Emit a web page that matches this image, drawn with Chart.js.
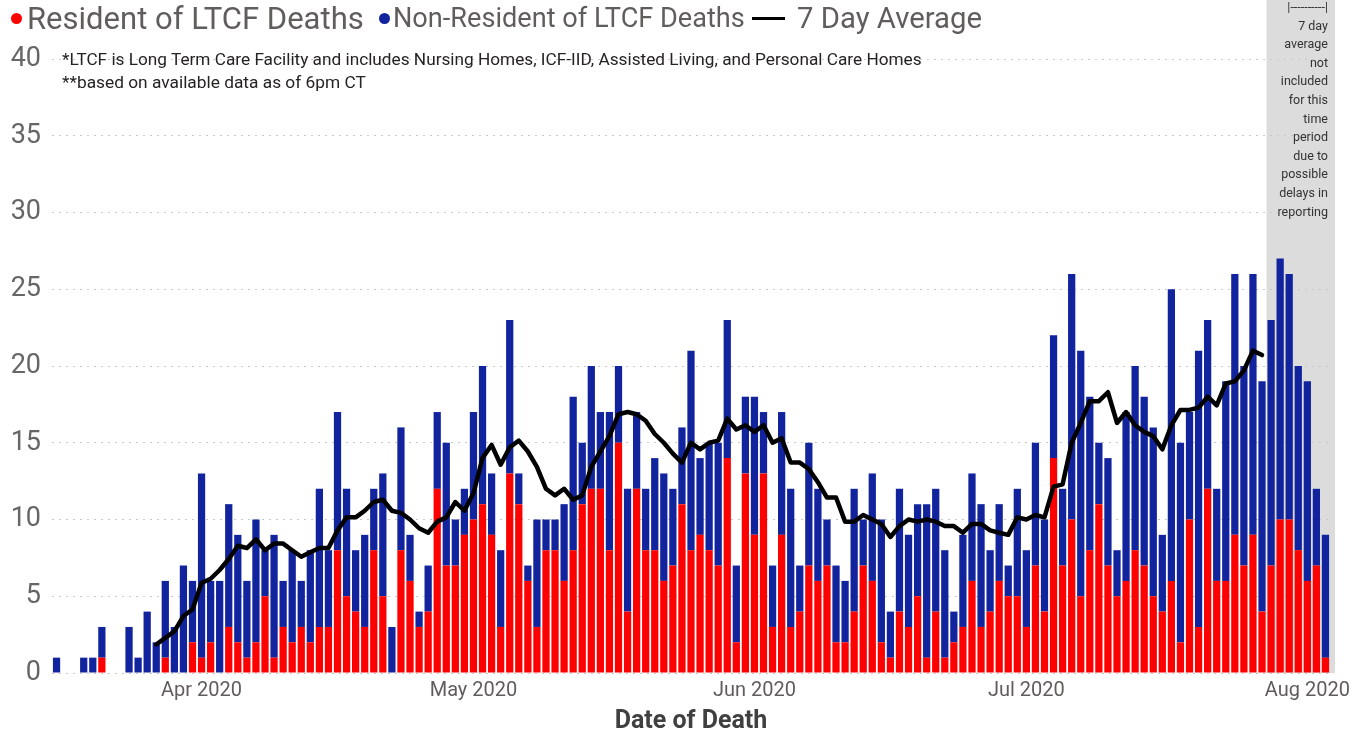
<!DOCTYPE html>
<html>
<head>
<meta charset="utf-8">
<script src="https://cdn.jsdelivr.net/npm/chart.js@4.4.1/dist/chart.umd.min.js"></script>
<style>
html,body{margin:0;padding:0;background:#fff;width:1369px;height:738px;overflow:hidden;}
#wrap{position:relative;width:1369px;height:738px;}
canvas{position:absolute;left:0;top:0;}
.t{position:absolute;white-space:nowrap;font-family:Roboto,'Open Sans',sans-serif;line-height:1;z-index:2;}
.leg{color:#605e5c;font-size:28px;}
.note{color:#252423;font-size:16px;}
.dot{position:absolute;width:11px;height:11px;border-radius:50%;z-index:2;}
#legLine{position:absolute;left:752px;top:16.5px;width:33px;height:3px;background:#000;z-index:2;}
#shadeText{position:absolute;right:41px;top:-2px;text-align:right;color:#333;font-family:Roboto,'Open Sans',sans-serif;font-size:12.5px;line-height:18.6px;z-index:2;white-space:nowrap;}
</style>
</head>
<body>
<div id="wrap">
<canvas id="c" width="1369" height="738"></canvas>
<div class="dot" style="left:10.5px;top:12.5px;background:#ff0000"></div>
<div class="t leg" id="leg0"></div>
<div class="dot" style="left:378.5px;top:12.5px;background:#12239e"></div>
<div class="t leg" id="leg1"></div>
<div id="legLine"></div>
<div class="t leg" id="leg2"></div>
<div class="t note" id="note0"></div>
<div class="t note" id="note1"></div>
<div id="shadeText"></div>
</div>
<script>
// ---------- data ----------
const START_DATE = '2020-03-16';
const resident = [
  0,0,0,0,0,1,0,0,0,0,
  0,0,1,0,0,2,1,2,0,3,
  2,1,2,5,1,3,2,3,2,3,
  3,8,5,4,3,8,5,0,8,6,
  3,4,12,7,7,9,10,11,9,3,
  13,11,6,3,8,8,6,8,11,12,
  12,8,15,4,12,8,8,6,7,11,
  8,9,8,7,14,2,13,9,13,3,
  9,3,4,7,6,7,2,2,4,7,
  6,2,1,4,3,5,1,4,1,2,
  3,6,3,4,6,5,5,3,7,4,
  14,7,10,5,8,11,7,5,6,8,
  7,5,4,6,2,10,3,12,6,6,
  9,7,9,4,7,10,10,8,6,7,
  1
];
const nonResident = [
  1,0,0,1,1,2,0,0,3,1,
  4,2,5,3,7,4,12,4,6,8,
  7,5,8,3,8,3,6,3,6,9,
  5,9,7,4,6,4,8,3,8,3,
  1,3,5,8,3,3,7,9,4,5,
  10,2,1,7,2,2,5,10,4,8,
  5,9,5,8,5,4,6,7,5,5,
  13,5,7,8,9,5,5,9,4,4,
  8,9,3,8,6,3,5,4,8,3,
  7,8,3,8,6,6,10,8,7,2,
  6,7,8,4,5,2,7,5,8,6,
  8,5,16,16,10,4,7,3,11,12,
  11,11,5,19,13,7,18,11,6,13,
  17,13,17,15,16,17,16,12,13,5,
  8
];
const sevenDayAvg = [
  null,null,null,null,null,null,null,null,null,null,
  null,1.86,2.29,2.71,3.71,4.14,5.86,6.14,6.71,7.43,
  8.29,8.14,8.71,8.00,8.43,8.43,8.00,7.57,7.86,8.14,
  8.14,9.29,10.14,10.14,10.57,11.14,11.29,10.57,10.43,10.00,
  9.43,9.14,9.86,10.14,11.14,10.57,11.71,14.00,14.86,13.57,
  14.71,15.14,14.43,13.43,12.00,11.57,12.00,11.29,11.57,13.43,
  14.43,15.43,16.86,17.00,16.86,16.43,15.57,15.00,14.29,13.71,
  15.00,14.57,15.00,15.14,16.57,15.86,16.14,15.71,16.14,15.00,
  15.29,13.71,13.71,13.29,12.43,11.43,11.43,9.86,9.86,10.29,
  10.00,9.71,8.86,9.57,10.00,9.86,10.00,9.86,9.57,9.57,
  9.14,9.71,9.71,9.29,9.14,9.00,10.14,10.00,10.29,10.14,
  12.14,12.29,15.00,16.29,17.71,17.71,18.29,16.29,17.00,16.14,
  15.71,15.43,14.57,16.14,17.14,17.14,17.29,18.00,17.43,18.86,
  19.00,19.71,21.00,20.71,null,null,null,null,null,null,
  null
];
const monthTickLabels = {'04':'Apr 2020','05':'May 2020','06':'Jun 2020','07':'Jul 2020','08':'Aug 2020'};
const yTicks = [0,5,10,15,20,25,30,35,40];
const legendLabels = ['Resident of LTCF Deaths','Non-Resident of LTCF Deaths','7 Day Average'];
const xTitle = 'Date of Death';
const notes = ['*LTCF is Long Term Care Facility and includes Nursing Homes, ICF-IID, Assisted Living, and Personal Care Homes','**based on available data as of 6pm CT'];
const shadeNote = ['|----------|','7 day','average','not','included','for this','time','period','due to','possible','delays in','reporting'];
const SHADE_FROM = '2020-07-28';

// categories: consecutive dates
const categories = [];
(function(){
  const d0 = new Date(START_DATE + 'T00:00:00Z').getTime();
  for (let i = 0; i < resident.length; i++) categories.push(new Date(d0 + i*86400000).toISOString().slice(0,10));
})();

// ---------- html text ----------
const FONT = "Roboto, 'Open Sans', sans-serif";
function place(id, text, x, cy, w){
  const el = document.getElementById(id);
  el.textContent = text;
  el.style.left = x + 'px';
  const fs0 = parseFloat(getComputedStyle(el).fontSize);
  const w0 = el.getBoundingClientRect().width;
  const fs = fs0 * w / w0;
  el.style.fontSize = fs + 'px';
  el.style.top = (cy - 0.4865*fs) + 'px';
}
place('leg0', legendLabels[0], 27, 18, 337);
place('leg1', legendLabels[1], 393, 18, 352);
place('leg2', legendLabels[2], 797, 18, 185);
place('note0', notes[0], 62, 59.5, 860);
place('note1', notes[1], 62, 82.5, 304);
document.getElementById('shadeText').innerHTML = shadeNote.map(s => '<div>' + s + '</div>').join('');

// ---------- chart ----------
const shadePlugin = {
  id: 'shade',
  beforeDraw(chart){
    const x = chart.scales.x, ctx = chart.ctx, area = chart.chartArea;
    const i0 = categories.indexOf(SHADE_FROM), i1 = categories.length - 1;
    const step = x.getPixelForValue(1) - x.getPixelForValue(0);
    const left = x.getPixelForValue(i0) - step/2;
    const right = x.getPixelForValue(i1) + step*1.05;
    ctx.save();
    ctx.fillStyle = '#dcdcdc';
    ctx.fillRect(left, 0, right - left, area.bottom);
    ctx.restore();
  }
};

new Chart(document.getElementById('c'), {
  data: {
    labels: categories,
    datasets: [
      {type:'line', label: legendLabels[2], data: sevenDayAvg, borderColor:'#000', backgroundColor:'#000', borderWidth:4.5,
       pointRadius:0, pointHoverRadius:0, fill:false, tension:0, stack:'avg', order:0, borderJoinStyle:'round', borderCapStyle:'round', spanGaps:false},
      {type:'bar', label: legendLabels[0], data: resident, backgroundColor:'#ff0000', stack:'deaths', order:1,
       barPercentage:0.8, categoryPercentage:1, borderWidth:0},
      {type:'bar', label: legendLabels[1], data: nonResident, backgroundColor:'#12239e', stack:'deaths', order:2,
       barPercentage:0.8, categoryPercentage:1, borderWidth:0}
    ]
  },
  options: {
    responsive:false, animation:false, devicePixelRatio:1,
    layout:{padding:{left:0, right:39, top:59, bottom:0}},
    plugins:{legend:{display:false}, tooltip:{enabled:false}},
    scales:{
      x:{type:'category', offset:true, stacked:true,
         grid:{display:false, drawTicks:false}, border:{display:false},
         ticks:{autoSkip:false, maxRotation:0, minRotation:0, padding:6, color:'#605e5c', font:{family:FONT, size:20},
                callback(v){ const l = this.getLabelForValue(v); return l.slice(8) === '01' ? (monthTickLabels[l.slice(5,7)] || '') : ''; }},
         title:{display:true, text:xTitle, color:'#404040', font:{family:FONT, size:25, weight:'bold'}, padding:{top:0, bottom:1}},
         afterFit(s){ s.height = 65; }},
      y:{stacked:true, min:yTicks[0], max:yTicks[yTicks.length-1],
         afterBuildTicks(s){ s.ticks = yTicks.map(v => ({value:v})); },
         ticks:{padding:11, color:'#666666', font:{family:FONT, size:27}},
         grid:{color:'#c8c8c8', drawTicks:false, lineWidth:1},
         border:{display:false, dash:[2,5]},
         afterFit(s){ s.width = 52; }}
    }
  },
  plugins:[shadePlugin]
});
</script>
</body>
</html>
